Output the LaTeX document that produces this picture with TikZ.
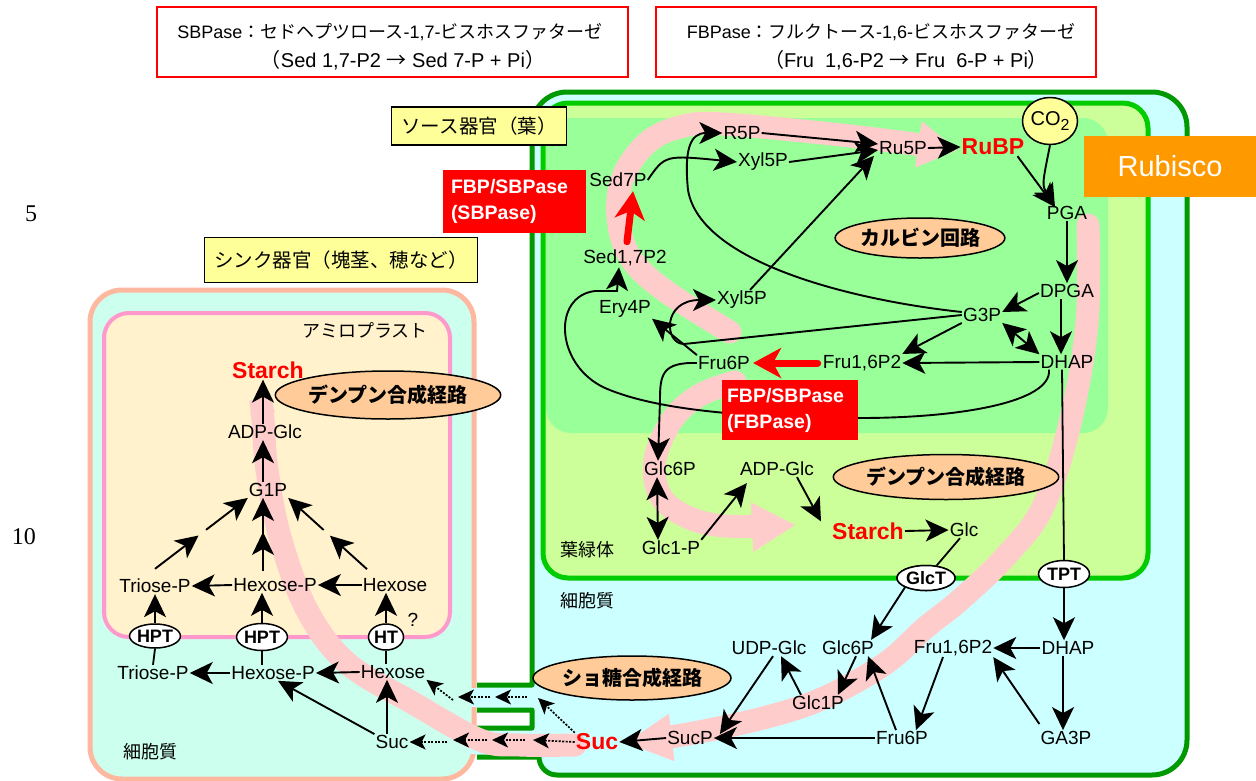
\documentclass[tikz,border=0pt]{standalone}
\usepackage{fontspec}
\setmainfont{Liberation Sans}
\newfontfamily\jp{Noto Sans CJK JP}
\newfontfamily\tms{Liberation Serif}
\usetikzlibrary{arrows.meta,shapes.geometric,calc}
\definecolor{srcline}{HTML}{009900}
\definecolor{chlline}{HTML}{00CC00}
\definecolor{cyto}{HTML}{CCFFFF}
\definecolor{chlfill}{HTML}{CCFF99}
\definecolor{calv}{HTML}{99FF99}
\definecolor{pinkband}{HTML}{FFCCCC}
\definecolor{sinkline}{HTML}{FFB8A0}
\definecolor{sinkfill}{HTML}{CCFFEE}
\definecolor{amyline}{HTML}{FF99CC}
\definecolor{amyfill}{HTML}{FFF2CC}
\definecolor{lblfill}{HTML}{FFFF99}
\definecolor{ovalfill}{HTML}{FFCC99}
\definecolor{rubisco}{HTML}{FF9900}
\begin{document}
\begin{tikzpicture}[x=1pt,y=-1pt,
  met/.style={inner sep=1pt,font=\fontsize{19}{20}\selectfont},
  redm/.style={inner sep=1pt,text=red,font=\fontsize{23}{24}\selectfont\bfseries},
  jpt/.style={inner sep=1pt,font=\jp\fontsize{18}{20}\selectfont},
  oval/.style={ellipse,draw,line width=1.5pt,fill=ovalfill,inner sep=0pt,font=\jp\bfseries\fontsize{20}{22}\selectfont},
  tp/.style={ellipse,draw,line width=1.5pt,fill=white,inner sep=0pt,font=\bfseries\fontsize{18}{18}\selectfont},
  lbl/.style={draw,line width=1.5pt,fill=lblfill,font=\jp\fontsize{19.5}{22}\selectfont,inner sep=0pt},
  redbox/.style={fill=red,text=white,font=\bfseries\fontsize{19.5}{26}\selectfont,align=left,inner sep=0pt},
  topbox/.style={draw=red,line width=1.5pt,inner sep=0pt},
  toptxt/.style={inner sep=0pt,font=\fontsize{18}{20}\selectfont},
  toptxtb/.style={inner sep=0pt,font=\fontsize{20}{22}\selectfont},
  arr/.style={line width=1.9pt,-{Stealth[length=23pt,width=22pt,inset=6pt]}},
  darr/.style={line width=1.9pt,{Stealth[length=23pt,width=22pt,inset=6pt]}-{Stealth[length=23pt,width=22pt,inset=6pt]}},
  ln/.style={line width=1.8pt},
  dotarr/.style={line width=1.7pt,dash pattern=on 2pt off 1.5pt,-{Stealth[length=16pt,width=15pt,inset=4pt]}},
  band/.style={draw=pinkband,line width=23pt,line cap=round},
  redarr/.style={draw=red,line width=7pt,line cap=round,-{Stealth[length=28pt,width=30pt,inset=8pt]}}
]
\useasboundingbox (0,0) rectangle (1256,780);
\fill[white] (0,0) rectangle (1256,780);

% line numbers
\node[font=\tms\fontsize{24}{26}\selectfont] (ln5) at (31,214) {5};
\node[font=\tms\fontsize{24}{26}\selectfont] (ln10) at (24,537) {10};

% top boxes
\node[topbox,minimum width=471pt,minimum height=70pt] (sbbox) at (392.5,42) {};
\node[toptxt] (sbt1) at (390,32) {SBPase{\jp ：セドヘプツロース}-1,7-{\jp ビスホスファターゼ}};
\node[toptxtb] (sbt2) at (403,60) {{\jp （}Sed 1,7-P2 {\jp →} Sed 7-P + Pi{\jp ）}};
\node[topbox,minimum width=440pt,minimum height=70pt] (fbbox) at (876,42) {};
\node[toptxt] (fbt1) at (881,32) {FBPase{\jp ：フルクトース}-1,6-{\jp ビスホスファターゼ}};
\node[toptxtb] (fbt2) at (906,60) {{\jp （}Fru\ \ 1,6-P2 {\jp →} Fru\ \ 6-P + Pi{\jp ）}};

% sink cell
\draw[sinkline,line width=5pt,fill=sinkfill,rounded corners=32pt] (90,290) rectangle (474,779);
\draw[amyline,line width=4pt,fill=amyfill,rounded corners=25pt] (104,313) rectangle (450,637);

% source cell
\fill[cyto] (532,685) -- (532,127) arc[start angle=180,end angle=90,radius=35pt] -- (1152,92) arc[start angle=90,end angle=0,radius=35pt] -- (1187,740) arc[start angle=0,end angle=-90,radius=35pt] -- (557,775) arc[start angle=270,end angle=180,radius=18pt] -- (477,757) -- (477,728) -- (532,728) -- (532,710) -- (477,710) -- (477,685) -- cycle;
\draw[srcline,line width=5pt,line join=round] (477,685) -- (532,685) -- (532,127) arc[start angle=180,end angle=90,radius=35pt] -- (1152,92) arc[start angle=90,end angle=0,radius=35pt] -- (1187,740) arc[start angle=0,end angle=-90,radius=35pt] -- (557,775) arc[start angle=270,end angle=180,radius=18pt] -- (477,757) (477,728) -- (532,728) -- (532,710) -- (477,710);
\fill[cyto] (470,688) rectangle (479,707);
\fill[cyto] (470,731) rectangle (479,754);

% chloroplast
\draw[chlline,line width=5pt,fill=chlfill,rounded corners=25pt] (543,103) rectangle (1148,578);
\fill[calv,rounded corners=25pt] (546,118) rectangle (1108,433);

% pink bands
\draw[band,-{Triangle[length=40pt,width=44pt]}] plot[smooth,tension=0.6] coordinates {(730,332) (664,290) (630,257) (618,217) (623,177) (647,143) (680,127) (723,124) (850,136) (958,150)};
\draw[band,-{Triangle[length=47pt,width=44pt]}] plot[smooth,tension=0.6] coordinates {(1088,225) (1087,323) (1070,423) (1043,507) (1005,557) (960,600) (925,628) (886,663) (826,697) (767,717) (688,734) (625,743)};
\draw[band,-{Triangle[length=44pt,width=46pt]}] plot[smooth,tension=0.6] coordinates {(735,382) (700,395) (672,420) (655,460) (660,495) (685,516) (725,526) (796,525)};
\draw[band,-{Triangle[length=28pt,width=23pt]}] plot[smooth,tension=0.6] coordinates {(575,745) (520,745) (480,740) (413,703) (347,663) (307,610) (280,537) (267,470) (263,420) (259,386)};

% labels
\node[lbl,minimum width=175pt,minimum height=38pt] (srclbl) at (479,126) {ソース器官（葉）};
\node[lbl,minimum width=273pt,minimum height=45pt] (sinklbl) at (341,260) {シンク器官（塊茎、穂など）};
\node[fill=rubisco,text=white,minimum width=173pt,minimum height=61pt,inner sep=0pt,font=\fontsize{29}{30}\selectfont] (rubisco) at (1170,166) {Rubisco};
\node[ellipse,draw,line width=1.5pt,fill=lblfill,minimum width=54pt,minimum height=47pt,inner sep=0pt,font=\fontsize{20}{20}\selectfont] (co2) at (1050,121) {CO\raisebox{-5pt}{\fontsize{16}{16}\selectfont 2}};

% Calvin cycle metabolites
\node[met] (r5p) at (742,133) {R5P};
\node[met] (xyla) at (763,162) {Xyl5P};
\node[met] (ru5p) at (903,148) {Ru5P};
\node[redm] (rubp) at (993,147) {RuBP};
\node[met] (sed7p) at (618,180) {Sed7P};
\node[met] (pga) at (1067,213) {PGA};
\node[oval,minimum width=164pt,minimum height=40pt] (calvin) at (920,238) {カルビン回路};
\node[met] (sed17) at (625,258) {Sed1,7P2};
\node[met] (xylb) at (742,300) {Xyl5P};
\node[met] (dpga) at (1067,291) {DPGA};
\node[met] (ery4p) at (625,309) {Ery4P};
\node[met] (g3p) at (982,315) {G3P};
\node[met] (fru6p) at (724,363) {Fru6P};
\node[met] (fru16) at (862,363) {Fru1,6P2};
\node[met] (dhap) at (1067,362) {DHAP};

% chloroplast starch
\node[met] (glc6p) at (670,469) {Glc6P};
\node[met] (adpglc) at (777,469) {ADP-Glc};
\node[oval,minimum width=192pt,minimum height=45pt] (stoval) at (946,477) {デンプン合成経路};
\node[redm] (starch) at (868,531) {Starch};
\node[met] (glc) at (964,530) {Glc};
\node[met] (glc1p) at (671,548) {Glc1-P};
\node[jpt] (chl) at (587,550) {葉緑体};
\node[tp,minimum width=58pt,minimum height=25pt] (glct) at (926,578) {GlcT};
\node[tp,minimum width=51pt,minimum height=27pt] (tpt) at (1064,574) {TPT};

% cytosol (source)
\node[jpt] (cyt) at (587,601) {細胞質};
\node[met] (udpglc) at (769,648) {UDP-Glc};
\node[met] (glc6pc) at (848,648) {Glc6P};
\node[met] (fru16c) at (953,648) {Fru1,6P2};
\node[met] (dhapc) at (1068,648) {DHAP};
\node[oval,minimum width=180pt,minimum height=44pt] (sucoval) at (632,678) {ショ糖合成経路};
\node[met] (glc1pc) at (818,703) {Glc1P};
\node[met] (sucp) at (690,738) {SucP};
\node[redm] (suc) at (597,742) {Suc};
\node[met] (fru6pc) at (902,738) {Fru6P};
\node[met] (ga3p) at (1066,738) {GA3P};

% sink
\node[jpt] (amylo) at (365,330) {アミロプラスト};
\node[redm] (starchs) at (268,370) {Starch};
\node[oval,minimum width=190pt,minimum height=48pt] (sinkoval) at (388,395) {デンプン合成経路};
\node[met] (adpglcs) at (265,432) {ADP-Glc};
\node[met] (g1p) at (268,490) {G1P};
\node[met] (triosein) at (155,586) {Triose-P};
\node[met] (hexpin) at (275,585) {Hexose-P};
\node[met] (hexin) at (395,585) {Hexose};
\node[tp,minimum width=50pt,minimum height=24pt] (hpt1) at (155,636) {HPT};
\node[tp,minimum width=50pt,minimum height=27pt] (hpt2) at (262,637) {HPT};
\node[tp,minimum width=35pt,minimum height=26pt] (ht) at (386,637) {HT};
\node[met] (qm) at (413,620) {?};
\node[met] (trioseout) at (153,673) {Triose-P};
\node[met] (hexpout) at (273,673) {Hexose-P};
\node[met] (hexout) at (393,672) {Hexose};
\node[met] (sucs) at (392,742) {Suc};
\node[jpt] (cyts) at (150,752) {細胞質};

% Calvin arrows
\draw[arr] (r5p.east) -- ([yshift=4pt]ru5p.west);
\draw[arr] (xyla.east) -- ([yshift=-2pt]ru5p.west);
\draw[arr] ([xshift=8pt]xylb.north) -- ([xshift=-4pt]ru5p.south west);
\draw[arr] (ru5p.east) -- (rubp.west);
\draw[arr] ([xshift=-8pt]rubp.south east) -- ([xshift=-12pt,yshift=-2pt]pga.north);
\draw[arr] (co2.south) .. controls (1042,185) .. ([xshift=-12pt,yshift=-2pt]pga.north);
\draw[arr] (pga.south) -- (dpga.north);
\draw[arr] ([xshift=-6pt]dpga.south) -- ([xshift=-6pt]dhap.north);
\draw[arr] ([yshift=-2pt]dpga.west) -- ([yshift=3pt]g3p.east);
\draw[darr] (g3p.south east) -- (dhap.north west);
\draw[arr] (g3p.south west) -- (fru16.north east);
\draw[arr] (dhap.west) -- (fru16.east);
\draw[redarr] ([xshift=-4pt]fru16.west) -- ([xshift=2pt]fru6p.east);
\draw[arr] (fru6p.north west) -- (ery4p.south east);
\draw[arr] (g3p.west) -- (684,344) .. controls (664,344) and (662,300) .. (xylb.west);
\draw[arr] ([yshift=3pt]g3p.west) .. controls (850,300) and (700,262) .. (688,190) .. controls (684,150) and (690,133) .. (r5p.west);
\draw[arr] (sed7p.east) .. controls (665,155) .. (xyla.west);
\draw[arr] ([xshift=-18pt]dhap.south) .. controls (1052,402) and (960,418) .. (860,418) .. controls (760,418) and (660,412) .. (605,388) .. controls (555,365) and (552,296) .. (595,291) -- (617,291) -- ([xshift=-6pt]sed17.south);
\draw[redarr] ([xshift=2pt,yshift=7pt]sed17.north) -- ([xshift=15pt,yshift=-3pt]sed7p.south);

% chloroplast starch arrows
\draw[arr] (fru6p.west) .. controls (662,362) and (660,375) .. (660,400) -- ([xshift=-12pt]glc6p.north);
\draw[darr] ([xshift=-13pt]glc6p.south) -- ([xshift=-13pt]glc1p.north);
\draw[arr] (glc1p.north east) -- ([xshift=8pt,yshift=-6pt]adpglc.south west);
\draw[arr] ([xshift=20pt]adpglc.south) -- ([xshift=-10pt]starch.north west);
\draw[arr] (starch.east) -- (glc.west);
\draw[ln] ([xshift=-4pt]glc.south) -- (glct);
\node[tp,minimum width=58pt,minimum height=25pt] at (glct) {GlcT};
\draw[arr] (glct.south west) -- ([xshift=-4pt]glc6pc.north east);
\draw[ln] ([xshift=-5pt]dhap.south) -- (tpt.north);
\draw[arr] (tpt.south) -- ([xshift=-4pt]dhapc.north);

% cytosol arrows
\draw[arr] ([xshift=-5pt]dhapc.south) -- ([xshift=-3pt]ga3p.north);
\draw[arr] (dhapc.west) -- (fru16c.east);
\draw[arr] ([yshift=6pt]ga3p.north west) -- (fru16c.south east);
\draw[arr] ([xshift=-10pt]fru16c.south) -- ([xshift=14pt]fru6pc.north);
\draw[arr] ([xshift=-6pt]fru6pc.north) -- ([xshift=20pt]glc6pc.south);
\draw[arr] ([xshift=8pt]glc6pc.south) -- ([xshift=20pt]glc1pc.north);
\draw[arr] ([xshift=-17pt]glc1pc.north) -- ([xshift=12pt]udpglc.south);
\draw[arr] ([xshift=4pt]udpglc.south) -- ([xshift=6pt,yshift=4pt]sucp.east);
\draw[arr] (fru6pc.west) -- (sucp.east);
\draw[arr] (sucp.west) -- (suc.east);

% transport to sink
\draw[dotarr] (suc.west) -- (533,740);
\draw[dotarr] (525,740) -- (492,740);
\draw[dotarr] (487,740) -- (453,740);
\draw[dotarr] (447,742) -- (sucs.east);
\draw[dotarr] (suc.north west) -- (538,698);
\draw[dotarr] (527,697) -- (495,697);
\draw[dotarr] (490,697) -- (458,697);
\draw[dotarr] (453,700) -- (hexout.south east);

% sink arrows
\draw[arr] ([xshift=-5pt]sucs.north) -- ([xshift=-6pt]hexout.south);
\draw[arr] (sucs.north west) -- ([xshift=5pt]hexpout.south);
\draw[arr] (hexout.west) -- (hexpout.east);
\draw[arr] (hexpout.west) -- (trioseout.east);
\draw[ln] (trioseout.north) -- (hpt1.south);
\draw[ln] ([xshift=-11pt]hexpout.north) -- (hpt2.south);
\draw[ln] ([xshift=-7pt]hexout.north) -- (ht.south);
\draw[arr] (hpt1.north) -- (triosein.south);
\draw[arr] (hpt2.north) -- ([xshift=-13pt]hexpin.south);
\draw[arr] (ht.north) -- ([xshift=-9pt]hexin.south);
\draw[arr] (hexin.west) -- (hexpin.east);
\draw[arr] (hexpin.west) -- (triosein.east);
\draw[arr] ([yshift=9pt]triosein.north) -- ($([yshift=9pt]triosein.north)!0.47!(g1p.south west)$);
\draw[arr] ($([yshift=9pt]triosein.north)!0.55!(g1p.south west)$) -- (g1p.south west);
\draw[arr] ([xshift=-12pt,yshift=6pt]hexpin.north) -- ([xshift=-5pt,yshift=-34pt]g1p.south);
\draw[arr] ([xshift=-5pt,yshift=-36pt]g1p.south) -- ([xshift=-5pt]g1p.south);
\draw[arr] ([xshift=-28pt,yshift=8pt]hexin.north) -- ($([xshift=-28pt,yshift=8pt]hexin.north)!0.47!(g1p.south east)$);
\draw[arr] ($([xshift=-28pt,yshift=8pt]hexin.north)!0.55!(g1p.south east)$) -- (g1p.south east);
\draw[arr] ([xshift=-5pt]g1p.north) -- ([xshift=-2pt]adpglcs.south);
\draw[arr] ([xshift=-2pt]adpglcs.north) -- ([xshift=-5pt]starchs.south);

% enzyme boxes on top
\node[redbox,minimum width=143pt,minimum height=63pt,text width=127pt] (sbp) at (514.5,201.5) {FBP/SBPase\\(SBPase)};
\node[redbox,minimum width=136pt,minimum height=60pt,text width=126pt] (fbp) at (790,410) {FBP/SBPase\\(FBPase)};
\end{tikzpicture}
\end{document}
